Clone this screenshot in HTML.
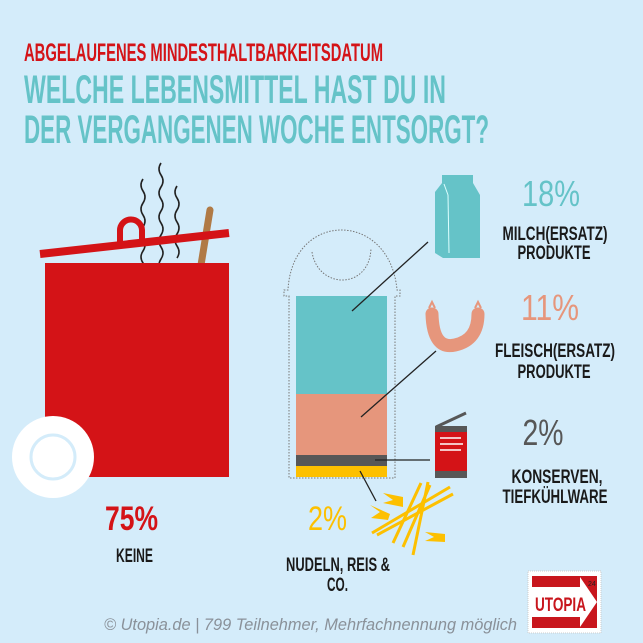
<!DOCTYPE html>
<html><head><meta charset="utf-8"><style>
html,body{margin:0;padding:0;background:#d4ecfa;}
svg{display:block}
text{font-family:"Liberation Sans Narrow","Liberation Sans",sans-serif;font-weight:bold;}
text.n{font-family:"Liberation Sans",sans-serif;font-weight:normal;}
text.f{font-family:"Liberation Sans",sans-serif;font-weight:normal;font-style:italic;}
</style></head><body>
<svg width="643" height="643" viewBox="0 0 643 643" xmlns="http://www.w3.org/2000/svg">
<rect width="643" height="643" fill="#d4ecfa"/>
<text x="24" y="61" font-size="25" fill="#d41317" textLength="359" lengthAdjust="spacingAndGlyphs">ABGELAUFENES MINDESTHALTBARKEITSDATUM</text>
<text x="24" y="103" font-size="40" fill="#65c3c8" textLength="422" lengthAdjust="spacingAndGlyphs">WELCHE LEBENSMITTEL HAST DU IN</text>
<text x="24" y="143" font-size="40" fill="#65c3c8" textLength="465" lengthAdjust="spacingAndGlyphs">DER VERGANGENEN WOCHE ENTSORGT?</text>

<g stroke="#222" stroke-width="1.6" fill="none">
<path d="M143,179 q-4,6 0,12 q4,6 0,12 q-4,6 0,12 q4,6 0,12 q-4,6 0,12 q4,6 0,12 q-4,6 0,12 q4,6 0,12"/>
<path d="M161,163 q-4,6 0,12 q4,6 0,12 q-4,6 0,12 q4,6 0,12 q-4,6 0,12 q4,6 0,12 q-4,6 0,12 q4,6 0,12 q-4,6 0,12 q4,6 0,6"/>
<path d="M177,186 q-4,6 0,12 q4,6 0,12 q-4,6 0,12 q4,6 0,12 q-4,6 0,12 q4,6 0,12"/>
</g>
<line x1="210" y1="210" x2="201" y2="265" stroke="#b07a45" stroke-width="7" stroke-linecap="round"/>
<line x1="40" y1="254" x2="229" y2="233" stroke="#d41317" stroke-width="8"/>
<path d="M120,245 v-14 a11,11 0 0 1 22,-1 v12" stroke="#d41317" stroke-width="6" fill="none"/>
<rect x="45" y="263" width="184" height="214" fill="#d41317"/>
<circle cx="53" cy="457" r="41" fill="#fff"/>
<circle cx="53" cy="457" r="22" fill="none" stroke="#d4ecfa" stroke-width="3"/>

<g fill="none" stroke="#777" stroke-width="1" stroke-dasharray="1.5,1.5">
<path d="M289,296 V478 H395 V296 H400 V290 H397 C390,210 292,210 288,290 H284 V296 Z"/>
<path d="M312,252 C318,290 370,290 371,248"/>
</g>
<rect x="296" y="296" width="91" height="98" fill="#65c3c8"/>
<rect x="296" y="394" width="91" height="61" fill="#e6967c"/>
<rect x="296" y="455" width="91" height="11" fill="#575757"/>
<rect x="296" y="466" width="91" height="11" fill="#fdc000"/>

<g stroke="#222" stroke-width="1.3">
<line x1="428" y1="242" x2="352" y2="311"/>
<line x1="436" y1="351" x2="361" y2="417"/>
<line x1="375" y1="460" x2="430" y2="460"/>
<line x1="360" y1="471" x2="376" y2="501"/>
</g>

<polygon points="442,175 473,175 473,183 480,195 480,258 443,258 435,253 435,192 442,183" fill="#65c3c8"/>
<line x1="444" y1="184" x2="448" y2="195" stroke="#dff" stroke-width="1"/>
<line x1="448" y1="195" x2="449" y2="253" stroke="#dff" stroke-width="1"/>

<path d="M432,314 Q433,350 455,345 Q478,340 478,314" stroke="#e6967c" stroke-width="13" fill="none" stroke-linecap="round"/>
<path d="M429,308 l3,-6 l3,6 M475,308 l3,-6 l3,6" stroke="#e6967c" stroke-width="2" fill="none"/>

<line x1="436" y1="427" x2="466" y2="413" stroke="#575757" stroke-width="3"/>
<rect x="435" y="426" width="32" height="52" fill="#d41317"/>
<rect x="435" y="426" width="32" height="6" fill="#575757"/>
<rect x="435" y="471" width="32" height="7" fill="#575757"/>
<g stroke="#fff" stroke-width="1.5"><line x1="440" y1="438" x2="461" y2="438"/><line x1="440" y1="444" x2="463" y2="444"/><line x1="440" y1="450" x2="461" y2="450"/></g>

<g stroke="#fdc000" stroke-width="3">
<line x1="421" y1="483" x2="393" y2="543"/>
<line x1="428" y1="482" x2="413" y2="555"/>
<line x1="430" y1="485" x2="403" y2="547"/>
<line x1="450" y1="487" x2="372" y2="533"/>
<line x1="453" y1="494" x2="377" y2="535"/>
</g>
<g fill="#fdc000">
<polygon points="383,493 403,497 403,507 383,503 393,500"/>
<polygon points="370,505 390,514 388,520 371,518 380,512"/>
<polygon points="425,532 445,534 445,542 425,541 434,537"/>
</g>

<text class="n" x="551" y="206" font-size="36" fill="#65c3c8" text-anchor="middle" textLength="58" lengthAdjust="spacingAndGlyphs">18%</text>
<text x="555" y="240" font-size="19" fill="#1a1a1a" text-anchor="middle" textLength="105" lengthAdjust="spacingAndGlyphs">MILCH(ERSATZ)</text>
<text x="554" y="259" font-size="19" fill="#1a1a1a" text-anchor="middle" textLength="73" lengthAdjust="spacingAndGlyphs">PRODUKTE</text>
<text class="n" x="550" y="320" font-size="36" fill="#e6967c" text-anchor="middle" textLength="58" lengthAdjust="spacingAndGlyphs">11%</text>
<text x="555" y="357" font-size="19" fill="#1a1a1a" text-anchor="middle" textLength="120" lengthAdjust="spacingAndGlyphs">FLEISCH(ERSATZ)</text>
<text x="554" y="378" font-size="19" fill="#1a1a1a" text-anchor="middle" textLength="73" lengthAdjust="spacingAndGlyphs">PRODUKTE</text>
<text class="n" x="543" y="445" font-size="36" fill="#575757" text-anchor="middle" textLength="41" lengthAdjust="spacingAndGlyphs">2%</text>
<text x="557" y="483" font-size="19" fill="#1a1a1a" text-anchor="middle" textLength="91" lengthAdjust="spacingAndGlyphs">KONSERVEN,</text>
<text x="555" y="503" font-size="19" fill="#1a1a1a" text-anchor="middle" textLength="105" lengthAdjust="spacingAndGlyphs">TIEFKÜHLWARE</text>
<text x="105" y="530" font-size="34" fill="#d41317" textLength="53" lengthAdjust="spacingAndGlyphs">75%</text>
<text x="116" y="562" font-size="19" fill="#1a1a1a" textLength="37" lengthAdjust="spacingAndGlyphs">KEINE</text>
<text class="n" x="308" y="530" font-size="34" fill="#fdc000" textLength="39" lengthAdjust="spacingAndGlyphs">2%</text>
<text x="286" y="571" font-size="19" fill="#1a1a1a" textLength="104" lengthAdjust="spacingAndGlyphs">NUDELN, REIS &amp;</text>
<text x="327" y="591" font-size="19" fill="#1a1a1a" textLength="21" lengthAdjust="spacingAndGlyphs">CO.</text>

<text class="f" x="104" y="630" font-size="17" fill="#8a9199" textLength="413" lengthAdjust="spacingAndGlyphs">© Utopia.de | 799 Teilnehmer, Mehrfachnennung möglich</text>

<rect x="528" y="571" width="73" height="62" fill="#fff" stroke="#ccc" stroke-dasharray="1,1"/>
<rect x="532" y="576" width="65" height="52" fill="#c8161d"/>
<polygon points="532,587 580,587 580,577 597,602 580,627 580,617 532,617" fill="#fff"/>
<text x="535" y="611" font-size="19" fill="#c8161d" textLength="51" lengthAdjust="spacingAndGlyphs">UTOPIA</text>
<text class="n" x="588" y="586" font-size="7" fill="#222">24</text>
</svg>
</body></html>
